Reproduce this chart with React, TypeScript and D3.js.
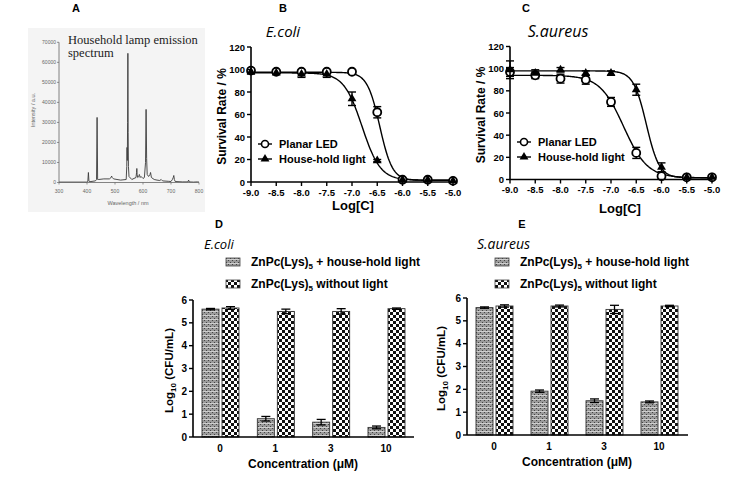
import React from "react";
import * as d3 from "d3";

// ---------- Panel A: household lamp emission spectrum ----------
const wavelengths = [300, 400, 403, 405, 407, 410, 430, 434, 436, 438, 442, 460, 480, 486, 488, 490, 495, 520, 540, 542, 543, 544, 545, 546, 547, 548, 550, 560, 575, 577, 578, 579, 581, 585, 587, 588, 590, 593, 600, 605, 609, 611, 613, 615, 620, 625, 627, 630, 640, 650, 660, 665, 670, 690, 700, 705, 708, 710, 712, 715, 740, 760, 763, 765, 780, 795, 800];
const intensities = [200, 200, 600, 5000, 600, 400, 800, 1500, 32500, 1500, 1500, 1800, 1800, 2500, 3200, 2500, 1800, 1200, 1500, 8000, 17500, 11000, 30000, 64500, 25000, 8000, 3000, 1500, 2500, 5000, 7000, 4000, 2500, 3000, 4000, 3500, 2500, 3000, 2000, 2500, 10000, 36500, 12000, 4000, 3000, 4000, 5000, 2500, 1500, 1200, 1000, 1500, 800, 600, 500, 1500, 2500, 3500, 1500, 500, 300, 300, 1200, 300, 200, 300, 200];
const spectrumXTicks = [300, 400, 500, 600, 700, 800];
const spectrumYTicks = [0, 10000, 20000, 30000, 40000, 50000, 60000, 70000];

// ---------- Panels B & C: survival vs log concentration ----------
const logConc = [-9.0, -8.5, -8.0, -7.5, -7.0, -6.5, -6.0, -5.5, -5.0];
const ecoliLED = [99, 98, 98, 98, 98, 62, 2, 2, 1];
const ecoliLEDErr = [2, 1, 1, 1, 1, 5, 1, 1, 1];
const ecoliHouse = [98, 97, 96, 96, 74, 19, 2, 2, 1];
const ecoliHouseErr = [2, 1, 3, 3, 6, 1, 1, 1, 1];
const saureusLED = [97, 94, 91, 90, 70, 24, 3, 2, 2];
const saureusLEDErr = [4, 3, 4, 4, 4, 5, 1, 1, 1];
const saureusHouse = [99, 96, 99, 96, 96, 81, 11, 2, 2];
const saureusHouseErr = [8, 3, 2, 2, 2, 5, 4, 1, 1];
// fitted curve parameters: [top, bottom, logIC50, hill slope]
const ecoliLEDFit = [97.5, 1.5, -6.45, 3.5];
const ecoliHouseFit = [97, 1.5, -6.8, 2.4];
const saureusLEDFit = [94, 1.5, -6.75, 1.85];
const saureusHouseFit = [98, 1.5, -6.3, 3.4];
const logTicks = [-9.0, -8.5, -8.0, -7.5, -7.0, -6.5, -6.0, -5.5, -5.0];
const survivalTicks = [0, 20, 40, 60, 80, 100, 120];
const doseLegend = ["Planar LED", "House-hold light"];

// ---------- Panels D & E: log10 CFU ----------
const concentrations = ["0", "1", "3", "10"];
const ecoliLight = [5.6, 0.8, 0.65, 0.42];
const ecoliLightErr = [0.03, 0.1, 0.12, 0.06];
const ecoliDark = [5.65, 5.5, 5.5, 5.62];
const ecoliDarkErr = [0.06, 0.1, 0.12, 0.03];
const saureusLight = [5.58, 1.92, 1.5, 1.45];
const saureusLightErr = [0.03, 0.05, 0.08, 0.04];
const saureusDark = [5.65, 5.65, 5.5, 5.65];
const saureusDarkErr = [0.05, 0.04, 0.18, 0.03];
const cfuTicks = [0, 1, 2, 3, 4, 5, 6];

const SANS = "'Liberation Sans', Arial, sans-serif";
const SERIF = "'Liberation Serif', 'Times New Roman', serif";
const TITLE = "'Open Sans', sans-serif";

const sigmoid = (p: number[], x: number) => p[1] + (p[0] - p[1]) / (1 + Math.pow(10, (x - p[2]) * p[3]));

function PanelA() {
  const x = d3.scaleLinear().domain([300, 800]).range([59, 199]);
  const y = d3.scaleLinear().domain([0, 70000]).range([182.5, 42.3]);
  const line = d3.line<number>().x((_, i) => x(wavelengths[i])).y((d) => y(d));
  return (
    <g>
      <rect x={28} y={28} width={177} height={184} fill="#f4f4f4" />
      <path d={line(intensities) || ""} fill="none" stroke="#3a3a3a" strokeWidth={0.9} />
      <line x1={x(300)} x2={x(800)} y1={y(0)} y2={y(0)} stroke="#666" strokeWidth={0.8} />
      <line x1={x(300)} x2={x(300)} y1={y(0)} y2={y(70000)} stroke="#666" strokeWidth={0.8} />
      {spectrumXTicks.map((t) => (
        <g key={t}>
          <line x1={x(t)} x2={x(t)} y1={y(0)} y2={y(0) + 2} stroke="#666" strokeWidth={0.7} />
          <text x={x(t)} y={193} fontSize={5} fill="#666" textAnchor="middle" fontFamily={SANS}>{t}</text>
        </g>
      ))}
      {spectrumYTicks.map((t) => (
        <g key={t}>
          <line x1={x(300) - 2} x2={x(300)} y1={y(t)} y2={y(t)} stroke="#666" strokeWidth={0.7} />
          <text x={x(300) - 3} y={y(t) + 1.8} fontSize={5} fill="#666" textAnchor="end" fontFamily={SANS}>{t}</text>
        </g>
      ))}
      <text x={128} y={205} fontSize={5.5} fill="#666" textAnchor="middle" fontFamily={SANS}>Wavelength / nm</text>
      <text transform="translate(35,110) rotate(-90)" fontSize={5.5} fill="#666" textAnchor="middle" fontFamily={SANS}>Intensity / a.u.</text>
      <text x={68} y={44} fontSize={12.5} fill="#222" fontFamily={SERIF}>Household lamp emission</text>
      <text x={68} y={57} fontSize={12.5} fill="#222" fontFamily={SERIF}>spectrum</text>
      <text x={76} y={12} fontSize={11} fontWeight="bold" textAnchor="middle" fontFamily={SANS}>A</text>
    </g>
  );
}

function Dose(props: {
  xr: [number, number]; yr: [number, number]; label: string; labelX: number; title: string; titleX: number; titleSize: number;
  led: number[]; ledErr: number[]; house: number[]; houseErr: number[]; ledFit: number[]; houseFit: number[];
  tickY: number; xTitleX: number; xTitleY: number; yTitleX: number; legX: number; legY: [number, number];
}) {
  const x = d3.scaleLinear().domain([-9, -5]).range(props.xr);
  const y = d3.scaleLinear().domain([0, 120]).range(props.yr);
  const xs = d3.range(-9, -4.999, 0.02);
  const curve = (p: number[]) => d3.line<number>().x((d) => x(d)).y((d) => y(sigmoid(p, d)))(xs) || "";
  const tri = d3.symbol().type(d3.symbolTriangle).size(34)() || "";
  const errBar = (cx: number, v: number, e: number, key: string) => (
    <g key={key} stroke="#000" strokeWidth={1.4}>
      <line x1={cx} x2={cx} y1={y(v - e)} y2={y(v + e)} />
      <line x1={cx - 4} x2={cx + 4} y1={y(v - e)} y2={y(v - e)} />
      <line x1={cx - 4} x2={cx + 4} y1={y(v + e)} y2={y(v + e)} />
    </g>
  );
  return (
    <g fontFamily={SANS}>
      <text x={props.labelX} y={12} fontSize={11} fontWeight="bold" textAnchor="middle">{props.label}</text>
      <text x={props.titleX} y={37} fontSize={props.titleSize} fontStyle="italic" textAnchor="middle" fontFamily={TITLE}>{props.title}</text>
      <path d={curve(props.ledFit)} fill="none" stroke="#000" strokeWidth={1.4} />
      <path d={curve(props.houseFit)} fill="none" stroke="#000" strokeWidth={1.4} />
      {logConc.map((c, i) => errBar(x(c), props.led[i], props.ledErr[i], "le" + i))}
      {logConc.map((c, i) => errBar(x(c), props.house[i], props.houseErr[i], "he" + i))}
      {logConc.map((c, i) => (
        <circle key={"lc" + i} cx={x(c)} cy={y(props.led[i])} r={4} fill="#fff" stroke="#000" strokeWidth={1.8} />
      ))}
      {logConc.map((c, i) => (
        <path key={"ht" + i} d={tri} transform={`translate(${x(c)},${y(props.house[i])})`} fill="#000" />
      ))}
      <line x1={props.xr[0]} x2={props.xr[1]} y1={y(0)} y2={y(0)} stroke="#000" strokeWidth={1.6} />
      <line x1={props.xr[0]} x2={props.xr[0]} y1={y(0)} y2={y(120)} stroke="#000" strokeWidth={1.6} />
      {logTicks.map((t) => (
        <g key={t}>
          <line x1={x(t)} x2={x(t)} y1={y(0)} y2={y(0) + 4} stroke="#000" strokeWidth={1.4} />
          <text x={x(t)} y={props.tickY} fontSize={9.5} fontWeight="bold" textAnchor="middle">{t.toFixed(1)}</text>
        </g>
      ))}
      {survivalTicks.map((t) => (
        <g key={t}>
          <line x1={props.xr[0] - 4} x2={props.xr[0]} y1={y(t)} y2={y(t)} stroke="#000" strokeWidth={1.4} />
          <text x={props.xr[0] - 6} y={y(t) + 3.5} fontSize={9.5} fontWeight="bold" textAnchor="end">{t}</text>
        </g>
      ))}
      <text x={props.xTitleX} y={props.xTitleY} fontSize={13} fontWeight="bold" textAnchor="middle">Log[C]</text>
      <text transform={`translate(${props.yTitleX},${(props.yr[0] + props.yr[1]) / 2 + 2}) rotate(-90)`} fontSize={12} fontWeight="bold" textAnchor="middle">Survival Rate / %</text>
      {doseLegend.map((name, i) => {
        const ly = props.legY[i];
        const cx = props.legX + 7;
        return (
          <g key={name}>
            <line x1={props.legX} x2={props.legX + 14} y1={ly - 3.5} y2={ly - 3.5} stroke="#000" strokeWidth={1.4} />
            {i === 0 ? (
              <circle cx={cx} cy={ly - 3.5} r={3.5} fill="#fff" stroke="#000" strokeWidth={1.6} />
            ) : (
              <path d={tri} transform={`translate(${cx},${ly - 3.5})`} fill="#000" />
            )}
            <text x={props.legX + 21} y={ly} fontSize={11} fontWeight="bold">{name}</text>
          </g>
        );
      })}
    </g>
  );
}

function Bars(props: {
  axisX: number; axisEnd: number; centers: [number, number]; yr: [number, number];
  label: string; labelX: number; title: string; titleX: number; titleSize: number;
  light: number[]; lightErr: number[]; dark: number[]; darkErr: number[];
  legX: number; yTitleX: number; xTitleX: number; xTitleY: number; tickLabelY: number;
}) {
  const x = d3.scalePoint<string>().domain(concentrations).range(props.centers);
  const sub = d3.scaleBand<string>().domain(["light", "dark"]).range([-18, 19]).paddingInner(0.15);
  const y = d3.scaleLinear().domain([0, 6]).range(props.yr);
  const bw = sub.bandwidth();
  const errBar = (cx: number, v: number, e: number) => (
    <g stroke="#000" strokeWidth={1.3}>
      <line x1={cx} x2={cx} y1={y(v - e)} y2={y(v + e)} />
      <line x1={cx - 4.5} x2={cx + 4.5} y1={y(v - e)} y2={y(v - e)} />
      <line x1={cx - 4.5} x2={cx + 4.5} y1={y(v + e)} y2={y(v + e)} />
    </g>
  );
  const series = [
    { key: "light", vals: props.light, errs: props.lightErr, fill: "url(#patLight)" },
    { key: "dark", vals: props.dark, errs: props.darkErr, fill: "url(#patChecker)" },
  ];
  const legendNames = [" + house-hold light", " without light"];
  return (
    <g fontFamily={SANS}>
      <text x={props.labelX} y={228} fontSize={11} fontWeight="bold" textAnchor="middle">{props.label}</text>
      <text x={props.titleX} y={249} fontSize={props.titleSize} fontStyle="italic" fontFamily={TITLE}>{props.title}</text>
      {series.map((s, si) => (
        <g key={s.key}>
          <rect x={props.legX} y={258 + si * 22} width={14} height={8} fill={s.fill} stroke="#444" strokeWidth={0.8} />
          <text x={props.legX + 25} y={266 + si * 22} fontSize={12} fontWeight="bold">
            ZnPc(Lys)<tspan fontSize={8} dy={3}>5</tspan><tspan dy={-3}>{legendNames[si]}</tspan>
          </text>
        </g>
      ))}
      {series.map((s) =>
        concentrations.map((c, i) => {
          const bx = (x(c) as number) + (sub(s.key) as number);
          return (
            <g key={s.key + c}>
              <rect x={bx} y={y(s.vals[i])} width={bw} height={y(0) - y(s.vals[i])} fill={s.fill} stroke="#333" strokeWidth={0.9} />
              {errBar(bx + bw / 2, s.vals[i], s.errs[i])}
            </g>
          );
        })
      )}
      <line x1={props.axisX} x2={props.axisEnd} y1={y(0)} y2={y(0)} stroke="#000" strokeWidth={1.6} />
      <line x1={props.axisX} x2={props.axisX} y1={y(0)} y2={y(6)} stroke="#000" strokeWidth={1.6} />
      {cfuTicks.map((t) => (
        <g key={t}>
          <line x1={props.axisX - 4} x2={props.axisX} y1={y(t)} y2={y(t)} stroke="#000" strokeWidth={1.4} />
          <text x={props.axisX - 6} y={y(t) + 3.5} fontSize={10} fontWeight="bold" textAnchor="end">{t}</text>
        </g>
      ))}
      {concentrations.map((c) => (
        <text key={c} x={x(c)} y={props.tickLabelY} fontSize={10} fontWeight="bold" textAnchor="middle">{c}</text>
      ))}
      <text x={props.xTitleX} y={props.xTitleY} fontSize={12} fontWeight="bold" textAnchor="middle">Concentration (μM)</text>
      <text transform={`translate(${props.yTitleX},${(props.yr[0] + props.yr[1]) / 2 + 2}) rotate(-90)`} fontSize={11.5} fontWeight="bold" textAnchor="middle">
        Log<tspan fontSize={8} dy={3}>10</tspan><tspan dy={-3}> (CFU/mL)</tspan>
      </text>
    </g>
  );
}

export default function App() {
  return (
    <svg width={732} height={481} viewBox="0 0 732 481" style={{ position: "absolute", left: 0, top: 0, background: "#fff" }}>
      <defs>
        <pattern id="patChecker" width={6} height={6} patternUnits="userSpaceOnUse">
          <rect width={6} height={6} fill="#fff" />
          <rect x={0} y={0} width={3} height={3} fill="#111" />
          <rect x={3} y={3} width={3} height={3} fill="#111" />
        </pattern>
        <pattern id="patLight" width={4} height={4} patternUnits="userSpaceOnUse">
          <rect width={4} height={4} fill="#9a9a9a" />
          <rect x={0} y={0} width={1} height={1} fill="#444" />
          <rect x={2} y={2} width={1} height={1} fill="#444" />
          <rect x={0} y={3} width={4} height={1} fill="#cfcfcf" />
        </pattern>
      </defs>
      <PanelA />
      <Dose xr={[251, 453]} yr={[182, 47]} label="B" labelX={283} title="E.coli" titleX={283} titleSize={15}
        led={ecoliLED} ledErr={ecoliLEDErr} house={ecoliHouse} houseErr={ecoliHouseErr} ledFit={ecoliLEDFit} houseFit={ecoliHouseFit}
        tickY={195.5} xTitleX={353} xTitleY={209.5} yTitleX={226} legX={258} legY={[147.5, 162.5]} />
      <Dose xr={[510, 712]} yr={[179.5, 46.5]} label="C" labelX={526} title="S.aureus" titleX={558} titleSize={16}
        led={saureusLED} ledErr={saureusLEDErr} house={saureusHouse} houseErr={saureusHouseErr} ledFit={saureusLEDFit} houseFit={saureusHouseFit}
        tickY={193} xTitleX={620} xTitleY={213} yTitleX={485} legX={517} legY={[145.5, 160.5]} />
      <Bars axisX={193} axisEnd={414} centers={[220, 386]} yr={[437, 300]} label="D" labelX={219} title="E.coli" titleX={204} titleSize={13}
        light={ecoliLight} lightErr={ecoliLightErr} dark={ecoliDark} darkErr={ecoliDarkErr}
        legX={226} yTitleX={173} xTitleX={303} xTitleY={468} tickLabelY={452} />
      <Bars axisX={467} axisEnd={688} centers={[494, 659]} yr={[435, 298]} label="E" labelX={522} title="S.aureus" titleX={477} titleSize={14}
        light={saureusLight} lightErr={saureusLightErr} dark={saureusDark} darkErr={saureusDarkErr}
        legX={495} yTitleX={445} xTitleX={577} xTitleY={466} tickLabelY={450} />
    </svg>
  );
}
